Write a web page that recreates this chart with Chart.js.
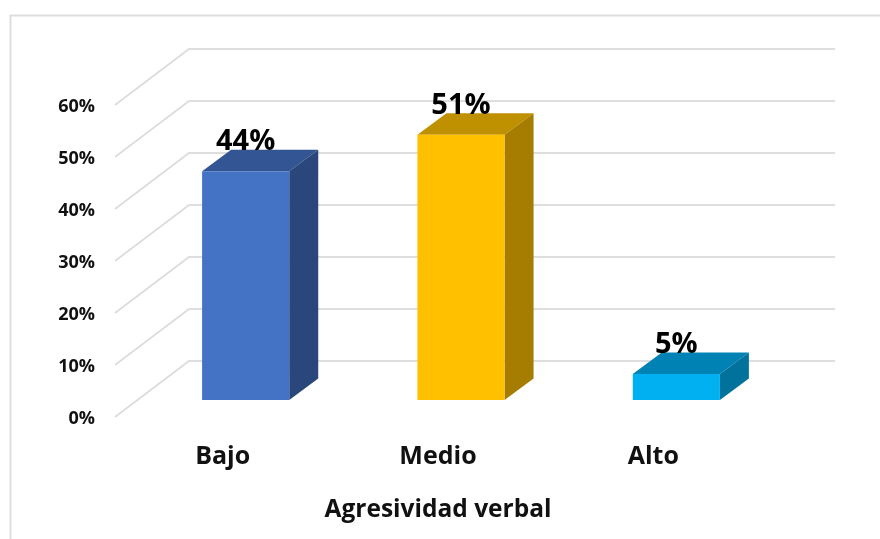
<!DOCTYPE html>
<html>
<head>
<meta charset="utf-8">
<style>html,body{margin:0;padding:0;background:#fff}canvas{display:block}</style>
<script src="https://cdn.jsdelivr.net/npm/chart.js@4"></script>
</head>
<body>
<canvas id="c" width="880" height="539"></canvas>
<script>
const categories = ["Bajo", "Medio", "Alto"];
const values = [44, 51, 5];
const yTicks = [0, 10, 20, 30, 40, 50, 60];
const frontColors = ["#4472C4", "#FFC000", "#00B0F0"];
const topColors = ["#335593", "#BF9000", "#0083B4"];
const sideColors = ["#2A477B", "#A67D00", "#00729C"];
const axisTitle = "Agresividad verbal";

const FONT = '"Open Sans", "Noto Sans", sans-serif';
const wall = {dx: 74, dy: -56};
const barPlane = {dx: 23, dy: -17};
const depth = {dx: 29, dy: -21.5};
const GRID = "#dedede";

const poly = (ctx, pts, fill) => {
  ctx.beginPath();
  pts.forEach((p, i) => i ? ctx.lineTo(p[0], p[1]) : ctx.moveTo(p[0], p[1]));
  ctx.closePath();
  ctx.fillStyle = fill;
  ctx.fill();
};

const threeD = {
  id: "threeD",
  beforeDraw(chart) {
    const ctx = chart.ctx;
    ctx.save();
    ctx.strokeStyle = "#dedede";
    ctx.lineWidth = 2;
    ctx.beginPath();
    ctx.moveTo(10.5, 539);
    ctx.lineTo(10.5, 15.5);
    ctx.lineTo(880, 15.5);
    ctx.stroke();
    ctx.restore();
  },
  beforeDatasetsDraw(chart) {
    const ctx = chart.ctx, a = chart.chartArea, y = chart.scales.y;
    ctx.save();
    ctx.strokeStyle = GRID;
    ctx.lineWidth = 2;
    yTicks.forEach(v => {
      const p = y.getPixelForValue(v);
      ctx.beginPath();
      ctx.moveTo(a.left, p);
      ctx.lineTo(a.left + wall.dx, p + wall.dy);
      ctx.lineTo(a.right + wall.dx, p + wall.dy);
      ctx.stroke();
    });
    ctx.translate(barPlane.dx, barPlane.dy);
    chart.getDatasetMeta(0).data.forEach((bar, i) => {
      const l = bar.x - bar.width / 2, r = bar.x + bar.width / 2, t = bar.y, b = bar.base;
      poly(ctx, [[l, t], [r, t], [r + depth.dx, t + depth.dy], [l + depth.dx, t + depth.dy]], topColors[i]);
      poly(ctx, [[r, t], [r + depth.dx, t + depth.dy], [r + depth.dx, b + depth.dy], [r, b]], sideColors[i]);
    });
  },
  afterDatasetsDraw(chart) {
    const ctx = chart.ctx;
    ctx.restore();
    ctx.save();
    ctx.font = "700 29px " + FONT;
    ctx.fillStyle = "#000";
    ctx.textAlign = "center";
    ctx.textBaseline = "middle";
    chart.getDatasetMeta(0).data.forEach((bar, i) => {
      ctx.fillText(values[i] + "%", bar.x + barPlane.dx, bar.y + barPlane.dy - 29);
    });
    ctx.restore();
  }
};

new Chart(document.getElementById("c"), {
  type: "bar",
  data: {
    labels: categories,
    datasets: [{
      data: values,
      backgroundColor: frontColors,
      borderWidth: 0,
      barPercentage: 87 / 215,
      categoryPercentage: 1
    }]
  },
  options: {
    responsive: false,
    animation: false,
    layout: {padding: {left: 0, right: 119, top: 105, bottom: 0}},
    plugins: {legend: {display: false}, tooltip: {enabled: false}},
    scales: {
      x: {
        grid: {display: false},
        border: {display: false},
        ticks: {color: "#111", font: {family: FONT, size: 25, weight: "700"}, padding: 17, maxRotation: 0},
        title: {display: true, text: axisTitle, color: "#111", font: {family: FONT, size: 24.5, weight: "700"}, padding: {top: 24, bottom: 14}},
        afterFit(s) { s.height = 122; }
      },
      y: {
        min: 0, max: 60,
        afterBuildTicks(s) { s.ticks = yTicks.map(v => ({value: v})); },
        grid: {display: false},
        border: {display: false},
        ticks: {color: "#111", font: {family: FONT, size: 18, weight: "700"}, padding: 12, labelOffset: 2, callback: v => v + "%"},
        afterFit(s) { s.width = 115; }
      }
    }
  },
  plugins: [threeD]
});
</script>
</body>
</html>
